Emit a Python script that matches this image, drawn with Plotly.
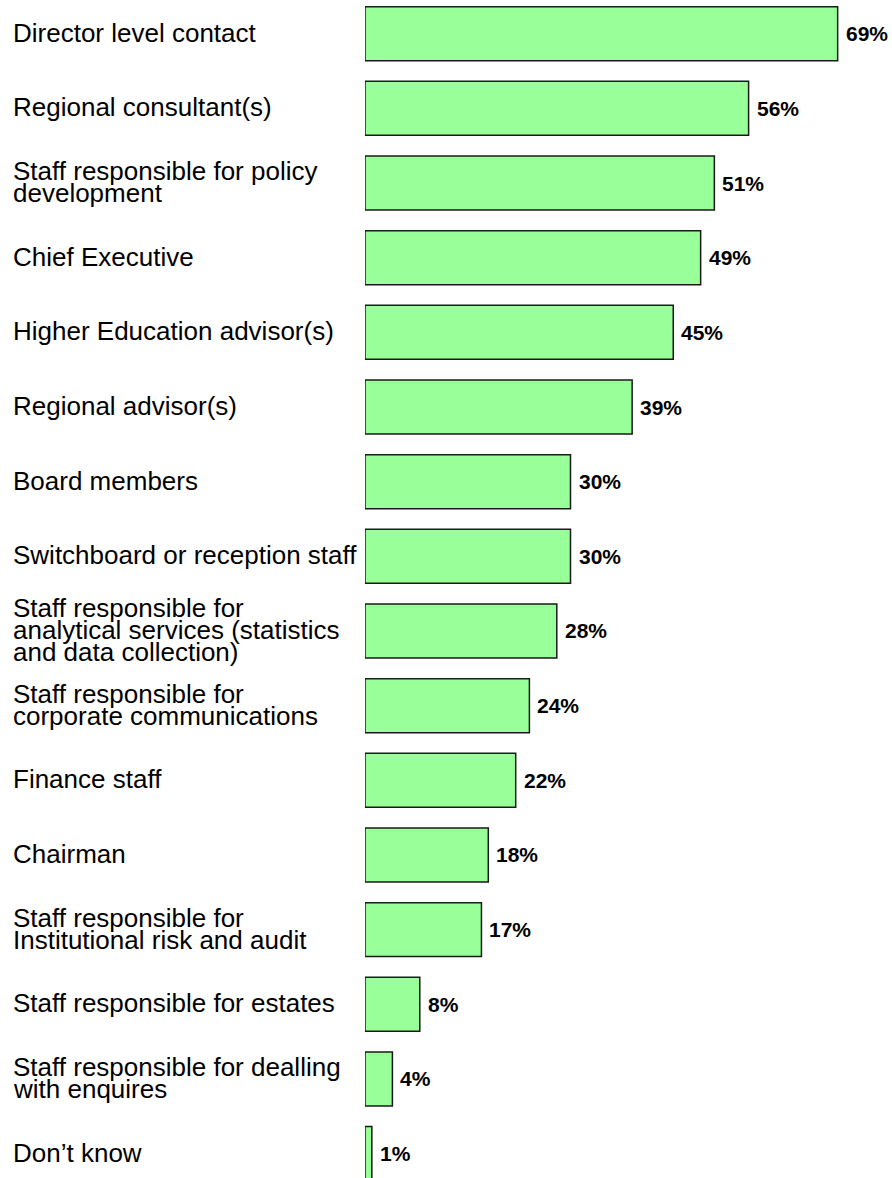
import plotly.graph_objects as go

# Survey responses: who respondents have contact with
categories = [
    "Director level contact",
    "Regional consultant(s)",
    "Staff responsible for policy<br>development",
    "Chief Executive",
    "Higher Education advisor(s)",
    "Regional advisor(s)",
    "Board members",
    "Switchboard or reception staff",
    "Staff responsible for<br>analytical services (statistics<br>and data collection)",
    "Staff responsible for<br>corporate communications",
    "Finance staff",
    "Chairman",
    "Staff responsible for<br>Institutional risk and audit",
    "Staff responsible for estates",
    "Staff responsible for dealling<br>with enquires",
    "Don\u2019t know",
]
values = [69, 56, 51, 49, 45, 39, 30, 30, 28, 24, 22, 18, 17, 8, 4, 1]

W, H = 892, 1178
LEFT = 365                 # pixel where bars start
PX_PER_PCT = 6.85          # horizontal scale
ROW_PX = 74.66             # vertical pitch of rows
FIRST_CENTER = 33.7        # pixel centre of the first bar
LINE_PX = 21.8             # line spacing of wrapped labels

keys = [c.replace("<br>", " ") for c in categories]

fig = go.Figure(
    go.Bar(
        x=values,
        y=keys,
        orientation="h",
        width=0.723,
        marker=dict(color="#99FF99", line=dict(color="#1a1a1a", width=1.5)),
        hoverinfo="skip",
    )
)

annotations = []
label_x = (11 - LEFT) / (W - LEFT)
for key, cat, v in zip(keys, categories, values):
    lines = cat.split("<br>")
    n = len(lines)
    # wrapped labels are set line by line to keep the tight leading
    for i, line in enumerate(lines):
        annotations.append(dict(
            xref="paper", yref="y", x=label_x, y=key,
            xanchor="left", yanchor="middle",
            text=line, showarrow=False,
            yshift=((n - 1) / 2 - i) * LINE_PX + 1,
            font=dict(family="Liberation Sans, Arial, sans-serif", size=26, color="black"),
        ))
    annotations.append(dict(
        xref="x", yref="y", x=v, y=key,
        xanchor="left", yanchor="middle",
        text=f"<b>{v}%</b>", showarrow=False, xshift=6,
        font=dict(family="Liberation Sans, Arial, sans-serif", size=21, color="black"),
    ))

lo = -FIRST_CENTER / ROW_PX
hi = lo + H / ROW_PX

fig.update_layout(
    width=W, height=H,
    margin=dict(l=LEFT, r=0, t=0, b=0),
    paper_bgcolor="white", plot_bgcolor="white",
    showlegend=False,
    xaxis=dict(range=[0, (W - LEFT) / PX_PER_PCT], visible=False, fixedrange=True),
    yaxis=dict(type="category", categoryorder="array", categoryarray=keys,
               range=[hi, lo], visible=False, fixedrange=True),
    annotations=annotations,
)

fig.write_html("out.html", config={"displayModeBar": False})
